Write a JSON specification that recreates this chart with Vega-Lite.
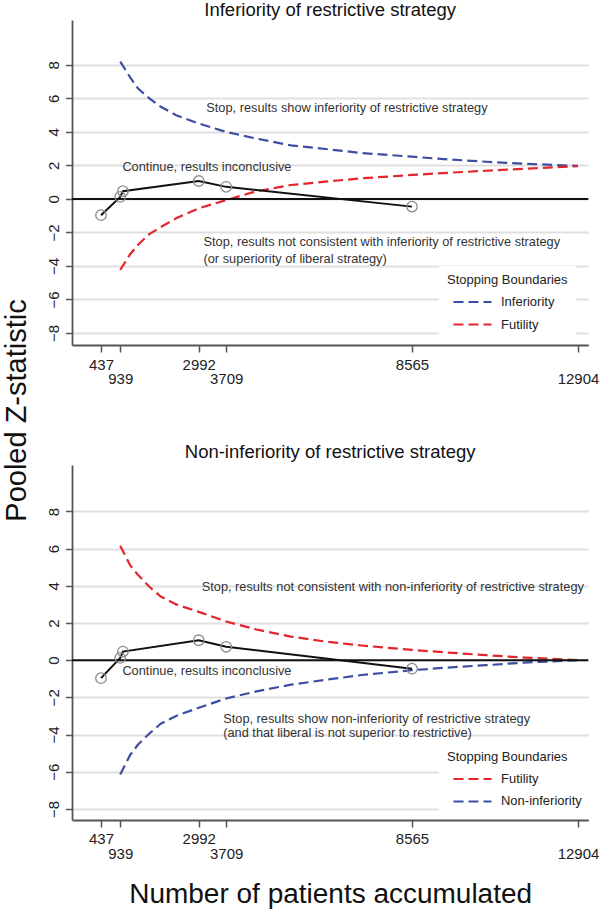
{
  "$schema": "https://vega.github.io/schema/vega-lite/v6.json",
  "padding": {"left": 2, "top": 0, "right": 0, "bottom": 0},
  "bounds": "flush",
  "spacing": 120,
  "config": {
    "view": {"stroke": null},
    "font": "Liberation Sans",
    "axis": {
      "labelFont": "Liberation Sans",
      "titleFont": "Liberation Sans",
      "labelColor": "#222222",
      "titleColor": "#111111",
      "domainColor": "#555555",
      "tickColor": "#555555",
      "domainWidth": 1.8,
      "tickWidth": 1.5,
      "gridColor": "#e0e0e0",
      "gridWidth": 1.8,
      "titleFontWeight": "normal"
    },
    "title": {"font": "Liberation Sans", "fontSize": 18.5, "fontWeight": "normal", "color": "#111111"},
    "legend": {
      "orient": "none",
      "legendX": 367,
      "fillColor": "white",
      "padding": 8,
      "titleFont": "Liberation Sans",
      "labelFont": "Liberation Sans",
      "titleFontSize": 13,
      "titleFontWeight": "normal",
      "titleColor": "#222222",
      "labelFontSize": 13,
      "labelColor": "#222222",
      "titlePadding": 4,
      "rowPadding": 4.5,
      "symbolType": "M-1,0L3,0",
      "symbolSize": 361,
      "symbolStrokeWidth": 2.2,
      "symbolDash": [10, 5],
      "symbolOffset": 5,
      "labelOffset": 27
    }
  },
  "datasets": {
    "boundTop": [
      {"series": "Inferiority", "n": 939, "z": 8.2},
      {"series": "Inferiority", "n": 1200, "z": 7.25},
      {"series": "Inferiority", "n": 1400, "z": 6.6},
      {"series": "Inferiority", "n": 1700, "z": 6.0},
      {"series": "Inferiority", "n": 2000, "z": 5.5},
      {"series": "Inferiority", "n": 2400, "z": 5.0},
      {"series": "Inferiority", "n": 2992, "z": 4.5},
      {"series": "Inferiority", "n": 3709, "z": 4.0},
      {"series": "Inferiority", "n": 4500, "z": 3.6},
      {"series": "Inferiority", "n": 5400, "z": 3.2},
      {"series": "Inferiority", "n": 6300, "z": 2.98},
      {"series": "Inferiority", "n": 7250, "z": 2.74},
      {"series": "Inferiority", "n": 8565, "z": 2.52},
      {"series": "Inferiority", "n": 9500, "z": 2.36},
      {"series": "Inferiority", "n": 10500, "z": 2.22},
      {"series": "Inferiority", "n": 11500, "z": 2.1},
      {"series": "Inferiority", "n": 12904, "z": 1.97},
      {"series": "Futility", "n": 939, "z": -4.24},
      {"series": "Futility", "n": 1200, "z": -3.3},
      {"series": "Futility", "n": 1400, "z": -2.75},
      {"series": "Futility", "n": 1700, "z": -2.1},
      {"series": "Futility", "n": 2000, "z": -1.68},
      {"series": "Futility", "n": 2400, "z": -1.16},
      {"series": "Futility", "n": 2992, "z": -0.56},
      {"series": "Futility", "n": 3709, "z": -0.07},
      {"series": "Futility", "n": 4500, "z": 0.46},
      {"series": "Futility", "n": 5400, "z": 0.83},
      {"series": "Futility", "n": 6300, "z": 1.03},
      {"series": "Futility", "n": 7250, "z": 1.23},
      {"series": "Futility", "n": 8565, "z": 1.43},
      {"series": "Futility", "n": 9500, "z": 1.56},
      {"series": "Futility", "n": 10500, "z": 1.68},
      {"series": "Futility", "n": 11500, "z": 1.8},
      {"series": "Futility", "n": 12904, "z": 1.96}
    ],
    "boundBottom": [
      {"series": "Futility", "n": 939, "z": 6.15},
      {"series": "Futility", "n": 1200, "z": 5.1},
      {"series": "Futility", "n": 1400, "z": 4.6},
      {"series": "Futility", "n": 1700, "z": 3.95},
      {"series": "Futility", "n": 2000, "z": 3.42},
      {"series": "Futility", "n": 2400, "z": 3.0},
      {"series": "Futility", "n": 2992, "z": 2.6},
      {"series": "Futility", "n": 3709, "z": 2.08},
      {"series": "Futility", "n": 4500, "z": 1.65},
      {"series": "Futility", "n": 5400, "z": 1.27},
      {"series": "Futility", "n": 6300, "z": 1.0},
      {"series": "Futility", "n": 7250, "z": 0.79},
      {"series": "Futility", "n": 8565, "z": 0.55},
      {"series": "Futility", "n": 9500, "z": 0.41},
      {"series": "Futility", "n": 10500, "z": 0.27},
      {"series": "Futility", "n": 11500, "z": 0.14},
      {"series": "Futility", "n": 12904, "z": 0.0},
      {"series": "Non-inferiority", "n": 939, "z": -6.15},
      {"series": "Non-inferiority", "n": 1200, "z": -5.1},
      {"series": "Non-inferiority", "n": 1400, "z": -4.55},
      {"series": "Non-inferiority", "n": 1700, "z": -3.95},
      {"series": "Non-inferiority", "n": 2000, "z": -3.42},
      {"series": "Non-inferiority", "n": 2400, "z": -3.0},
      {"series": "Non-inferiority", "n": 2992, "z": -2.56},
      {"series": "Non-inferiority", "n": 3709, "z": -2.06},
      {"series": "Non-inferiority", "n": 4500, "z": -1.68},
      {"series": "Non-inferiority", "n": 5400, "z": -1.32},
      {"series": "Non-inferiority", "n": 6300, "z": -1.06},
      {"series": "Non-inferiority", "n": 7250, "z": -0.8},
      {"series": "Non-inferiority", "n": 8565, "z": -0.54},
      {"series": "Non-inferiority", "n": 9500, "z": -0.4},
      {"series": "Non-inferiority", "n": 10500, "z": -0.27},
      {"series": "Non-inferiority", "n": 11500, "z": -0.13},
      {"series": "Non-inferiority", "n": 12904, "z": 0.0}
    ],
    "obs": [
      {"n": 437, "z": -0.97},
      {"n": 939, "z": 0.12},
      {"n": 1010, "z": 0.46},
      {"n": 2992, "z": 1.07},
      {"n": 3709, "z": 0.72},
      {"n": 8565, "z": -0.46}
    ],
    "zero": [{"z": 0}],
    "annTop": [
      {"n": 3189, "z": 5.4, "label": "Stop, results show inferiority of restrictive strategy"},
      {"n": 996, "z": 1.93, "label": "Continue, results inconclusive"},
      {"n": 3116, "z": -2.59, "label": "Stop, results not consistent with inferiority of restrictive strategy"},
      {"n": 3116, "z": -3.59, "label": "(or superiority of liberal strategy)"}
    ],
    "annBottom": [
      {"n": 3069, "z": 3.92, "label": "Stop, results not consistent with non-inferiority of restrictive strategy"},
      {"n": 996, "z": -0.61, "label": "Continue, results inconclusive"},
      {"n": 3631, "z": -3.16, "label": "Stop, results show non-inferiority of restrictive strategy"},
      {"n": 3631, "z": -3.92, "label": "(and that liberal is not superior to restrictive)"}
    ]
  },
  "resolve": {"scale": {"color": "independent"}, "legend": {"color": "independent"}},
  "vconcat": [
    {
      "width": 516.3,
      "height": 325,
      "title": {"text": "Inferiority of restrictive strategy", "baseline": "alphabetic", "offset": -14, "anchor": "middle"},
      "layer": [
        {
          "data": {"name": "boundTop"},
          "mark": {"type": "line", "strokeDash": [10, 5], "strokeWidth": 2.2},
          "encoding": {
            "x": {"field": "n", "type": "quantitative", "scale": {"domain": [-321, 13173], "nice": false, "zero": false},
              "axis": {"values": [437, 939, 2992, 3709, 8565, 12904], "format": "d", "grid": false, "tickSize": 7, "labelFontSize": 15, "labelPadding": 5, "labelOverlap": false, "labelBound": false, "labelFlush": false, "labelLineHeight": 15, "labelExpr": "indexof([939,3709,12904], datum.value) >= 0 ? ['', datum.label] : datum.label", "title": null}},
            "y": {"field": "z", "type": "quantitative", "scale": {"domain": [-8.72, 10.68], "nice": false, "zero": false},
              "axis": {"values": [-8, -6, -4, -2, 0, 2, 4, 6, 8], "grid": true, "tickSize": 6.5, "labelFontSize": 15, "labelAngle": -90, "labelAlign": "center", "labelBaseline": "bottom", "labelPadding": 4, "labelOverlap": false,
                "title": "Pooled Z-statistic", "titleFontSize": 29, "titleX": -55.7, "titleY": 390, "titleAngle": -90, "titleAlign": "center", "titleBaseline": "middle"}},
            "color": {"field": "series", "type": "nominal",
              "scale": {"domain": ["Inferiority", "Futility"], "range": ["#3c4ea3", "#e3262b"]},
              "legend": {"title": "Stopping Boundaries", "legendY": 246}}
          }
        },
        {
          "data": {"name": "zero"},
          "mark": {"type": "rule", "color": "#111111", "strokeWidth": 2},
          "encoding": {"y": {"field": "z", "type": "quantitative", "scale": {"domain": [-8.72, 10.68], "nice": false, "zero": false}}}
        },
        {
          "data": {"name": "obs"},
          "mark": {"type": "line", "color": "#111111", "strokeWidth": 2},
          "encoding": {
            "x": {"field": "n", "type": "quantitative", "scale": {"domain": [-321, 13173], "nice": false, "zero": false}},
            "y": {"field": "z", "type": "quantitative", "scale": {"domain": [-8.72, 10.68], "nice": false, "zero": false}}
          }
        },
        {
          "data": {"name": "obs"},
          "mark": {"type": "point", "shape": "circle", "size": 110, "filled": false, "stroke": "#8c8c8c", "strokeWidth": 1.3, "opacity": 1},
          "encoding": {
            "x": {"field": "n", "type": "quantitative", "scale": {"domain": [-321, 13173], "nice": false, "zero": false}},
            "y": {"field": "z", "type": "quantitative", "scale": {"domain": [-8.72, 10.68], "nice": false, "zero": false}}
          }
        },
        {
          "data": {"name": "annTop"},
          "mark": {"type": "text", "align": "left", "baseline": "middle", "fontSize": 12.8, "color": "#333333"},
          "encoding": {
            "x": {"field": "n", "type": "quantitative", "scale": {"domain": [-321, 13173], "nice": false, "zero": false}},
            "y": {"field": "z", "type": "quantitative", "scale": {"domain": [-8.72, 10.68], "nice": false, "zero": false}},
            "text": {"field": "label"}
          }
        }
      ]
    },
    {
      "width": 516.3,
      "height": 355,
      "title": {"text": "Non-inferiority of restrictive strategy", "baseline": "alphabetic", "offset": -12, "anchor": "middle"},
      "layer": [
        {
          "data": {"name": "boundBottom"},
          "mark": {"type": "line", "strokeDash": [10, 5], "strokeWidth": 2.2},
          "encoding": {
            "x": {"field": "n", "type": "quantitative", "scale": {"domain": [-321, 13173], "nice": false, "zero": false},
              "axis": {"values": [437, 939, 2992, 3709, 8565, 12904], "format": "d", "grid": false, "tickSize": 7, "labelFontSize": 15, "labelPadding": 5, "labelOverlap": false, "labelBound": false, "labelFlush": false, "labelLineHeight": 15, "labelExpr": "indexof([939,3709,12904], datum.value) >= 0 ? ['', datum.label] : datum.label",
                "title": "Number of patients accumulated", "titleFontSize": 28, "titleY": 75, "titleBaseline": "middle"}},
            "y": {"field": "z", "type": "quantitative", "scale": {"domain": [-8.6, 10.5], "nice": false, "zero": false},
              "axis": {"values": [-8, -6, -4, -2, 0, 2, 4, 6, 8], "grid": true, "tickSize": 6.5, "labelFontSize": 15, "labelAngle": -90, "labelAlign": "center", "labelBaseline": "bottom", "labelPadding": 4, "labelOverlap": false, "title": null}},
            "color": {"field": "series", "type": "nominal",
              "scale": {"domain": ["Futility", "Non-inferiority"], "range": ["#e3262b", "#3c4ea3"]},
              "legend": {"title": "Stopping Boundaries", "legendY": 278}}
          }
        },
        {
          "data": {"name": "zero"},
          "mark": {"type": "rule", "color": "#111111", "strokeWidth": 2},
          "encoding": {"y": {"field": "z", "type": "quantitative", "scale": {"domain": [-8.6, 10.5], "nice": false, "zero": false}}}
        },
        {
          "data": {"name": "obs"},
          "mark": {"type": "line", "color": "#111111", "strokeWidth": 2},
          "encoding": {
            "x": {"field": "n", "type": "quantitative", "scale": {"domain": [-321, 13173], "nice": false, "zero": false}},
            "y": {"field": "z", "type": "quantitative", "scale": {"domain": [-8.6, 10.5], "nice": false, "zero": false}}
          }
        },
        {
          "data": {"name": "obs"},
          "mark": {"type": "point", "shape": "circle", "size": 110, "filled": false, "stroke": "#8c8c8c", "strokeWidth": 1.3, "opacity": 1},
          "encoding": {
            "x": {"field": "n", "type": "quantitative", "scale": {"domain": [-321, 13173], "nice": false, "zero": false}},
            "y": {"field": "z", "type": "quantitative", "scale": {"domain": [-8.6, 10.5], "nice": false, "zero": false}}
          }
        },
        {
          "data": {"name": "annBottom"},
          "mark": {"type": "text", "align": "left", "baseline": "middle", "fontSize": 12.8, "color": "#333333"},
          "encoding": {
            "x": {"field": "n", "type": "quantitative", "scale": {"domain": [-321, 13173], "nice": false, "zero": false}},
            "y": {"field": "z", "type": "quantitative", "scale": {"domain": [-8.6, 10.5], "nice": false, "zero": false}},
            "text": {"field": "label"}
          }
        }
      ]
    }
  ]
}
